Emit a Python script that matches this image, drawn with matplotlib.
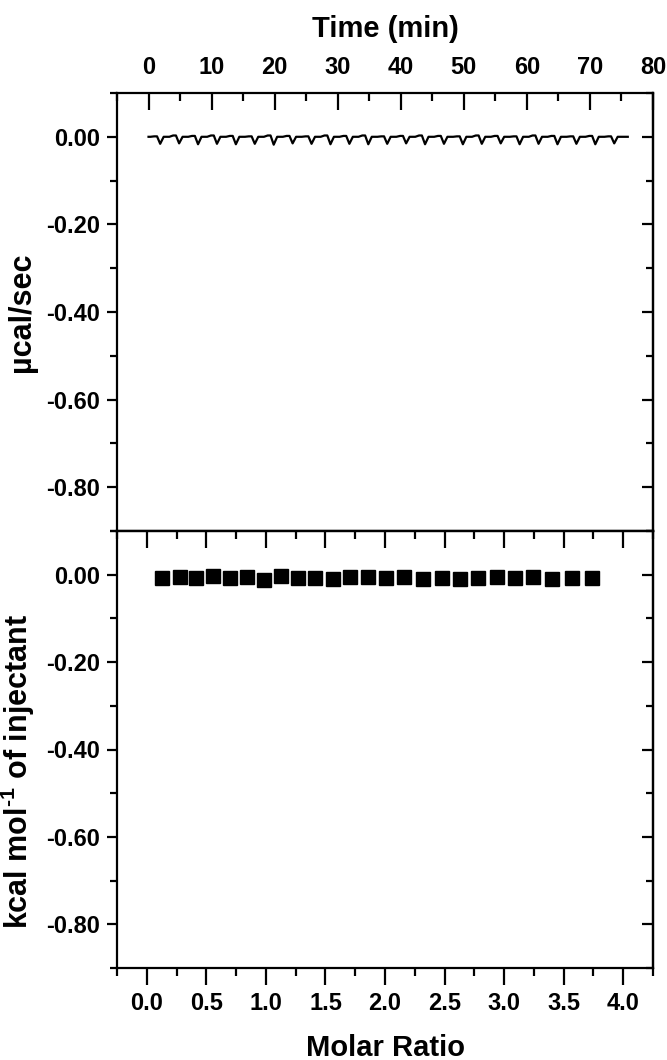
import matplotlib
matplotlib.use("Agg")
import matplotlib.pyplot as plt
from matplotlib.ticker import MultipleLocator, FormatStrFormatter

FONT = ["Liberation Sans", "DejaVu Sans"]
plt.rcParams["font.family"] = FONT
plt.rcParams["font.weight"] = "bold"
plt.rcParams["axes.unicode_minus"] = False
plt.rcParams["mathtext.fontset"] = "custom"
plt.rcParams["mathtext.rm"] = "Liberation Sans:bold"
plt.rcParams["mathtext.bf"] = "Liberation Sans:bold"
plt.rcParams["mathtext.default"] = "bf"

# ---------------- data ----------------
# raw thermogram: injection times (min) and peak power (ucal/sec)
injection_time = [1.5, 4.5, 7.5, 10.5, 13.5, 16.5, 19.5, 22.5, 25.5, 28.5,
                  31.5, 34.5, 37.5, 40.5, 43.5, 46.5, 49.5, 52.5, 55.5, 58.5,
                  61.5, 64.5, 67.5, 70.5, 73.5]
peak_power = [-0.016, -0.015, -0.017, -0.016, -0.017, -0.016, -0.018, -0.015,
              -0.016, -0.017, -0.016, -0.017, -0.016, -0.015, -0.017, -0.016,
              -0.017, -0.016, -0.015, -0.017, -0.016, -0.017, -0.016, -0.017,
              -0.015]
bump_power = [0.001, 0.003, 0.002, 0.003, 0.002, 0.001, 0.003, 0.002, 0.001,
              0.003, 0.002, 0.003, 0.001, 0.002, 0.003, 0.002, 0.001, 0.003,
              0.002, 0.001, 0.003, 0.002, 0.001, 0.002, 0.001]
trace_start, trace_end = 0.0, 76.0

# integrated heats
molar_ratio = [0.13, 0.28, 0.41, 0.56, 0.70, 0.84, 0.98, 1.13, 1.27, 1.41,
               1.56, 1.71, 1.86, 2.01, 2.16, 2.32, 2.48, 2.63, 2.78, 2.94,
               3.09, 3.24, 3.40, 3.57, 3.74]
heat = [-0.007, -0.005, -0.008, -0.003, -0.008, -0.005, -0.011, -0.003,
        -0.007, -0.007, -0.009, -0.005, -0.005, -0.007, -0.005, -0.009,
        -0.007, -0.009, -0.007, -0.005, -0.008, -0.005, -0.009, -0.007,
        -0.007]

top_xticks = [0, 10, 20, 30, 40, 50, 60, 70, 80]
bot_xticks = [0.0, 0.5, 1.0, 1.5, 2.0, 2.5, 3.0, 3.5, 4.0]
yticks = [0.0, -0.2, -0.4, -0.6, -0.8]

# build the thermogram polyline from the injection data
t_vals = [trace_start]
p_vals = [0.0]
for t, pk, bp in zip(injection_time, peak_power, bump_power):
    t_vals += [t - 1.2, t - 0.6, t - 0.15, t + 0.35, t + 0.9]
    p_vals += [0.0, bp, bp, pk, 0.0]
t_vals.append(trace_end)
p_vals.append(0.0)

# ---------------- figure ----------------
fig = plt.figure(figsize=(6.67, 10.60), dpi=100)
L, W = 117 / 667, 536 / 667
ax1 = fig.add_axes([L, 1 - 531 / 1060, W, 438 / 1060])
ax2 = fig.add_axes([L, 1 - 968 / 1060, W, 437 / 1060])

TICK_FS = 17
LAB_FS = 21

for ax in (ax1, ax2):
    for s in ax.spines.values():
        s.set_linewidth(1.6)
    ax.set_ylim(-0.9, 0.1)
    ax.set_yticks(yticks)
    ax.yaxis.set_minor_locator(MultipleLocator(0.1))
    ax.yaxis.set_major_formatter(FormatStrFormatter("%.2f"))
    ax.tick_params(axis="y", which="major", direction="out", length=7,
                   width=1.6, labelsize=TICK_FS, pad=5)
    ax.tick_params(axis="y", which="minor", direction="out", length=5,
                   width=1.6)
    for lab in ax.get_yticklabels():
        lab.set_fontweight("bold")

# top panel
ax1.plot(t_vals, p_vals, color="black", lw=1.6)
ax1.set_xlim(-5, 80)
ax1.set_xticks(top_xticks)
ax1.xaxis.set_minor_locator(MultipleLocator(5))
ax1.xaxis.tick_top()
ax1.xaxis.set_label_position("top")
ax1.tick_params(axis="x", which="major", direction="in", length=12,
                width=1.6, labelsize=TICK_FS, pad=10, top=True, bottom=False)
ax1.tick_params(axis="x", which="minor", direction="in", length=6,
                width=1.6, top=True, bottom=False)
ax1.set_xlabel("Time (min)", fontsize=LAB_FS, fontweight="bold", labelpad=14)
ax1.set_ylabel("µcal/sec", fontsize=LAB_FS + 1, fontweight="bold")
ax1.yaxis.set_label_coords(-0.150, 0.5)

# right side mirrored ticks (inward) for both panels
for ax in (ax1, ax2):
    axr = ax.secondary_yaxis("right")
    axr.set_yticks(yticks)
    axr.yaxis.set_minor_locator(MultipleLocator(0.1))
    axr.tick_params(axis="y", which="major", direction="in", length=8,
                    width=1.6, labelright=False)
    axr.tick_params(axis="y", which="minor", direction="in", length=5,
                    width=1.6, labelright=False)
    axr.spines["right"].set_linewidth(1.6)

# bottom panel
ax2.plot(molar_ratio, heat, linestyle="none", marker="s", markersize=10,
         color="black")
ax2.set_xlim(-0.25, 4.25)
ax2.set_xticks(bot_xticks)
ax2.xaxis.set_major_formatter(FormatStrFormatter("%.1f"))
ax2.xaxis.set_minor_locator(MultipleLocator(0.25))
ax2.tick_params(axis="x", which="major", direction="out", length=12,
                width=1.6, labelsize=TICK_FS, pad=5)
ax2.tick_params(axis="x", which="minor", direction="out", length=6,
                width=1.6)
for lab in ax2.get_xticklabels():
    lab.set_fontweight("bold")
axt = ax2.secondary_xaxis("top")
axt.set_xticks(bot_xticks)
axt.xaxis.set_minor_locator(MultipleLocator(0.25))
axt.tick_params(axis="x", which="major", direction="in", length=12,
                width=1.6, labeltop=False)
axt.tick_params(axis="x", which="minor", direction="in", length=6,
                width=1.6, labeltop=False)
axt.spines["top"].set_linewidth(1.6)

ax2.set_xlabel("Molar Ratio", fontsize=LAB_FS, fontweight="bold", labelpad=14)
ax2.set_ylabel(r"kcal mol$^{\text{-1}}$ of injectant", fontsize=LAB_FS + 1,
               fontweight="bold")
ax2.yaxis.set_label_coords(-0.150, 0.45)

for lab in ax1.get_xticklabels():
    lab.set_fontweight("bold")

fig.savefig("out.png", dpi=100)
